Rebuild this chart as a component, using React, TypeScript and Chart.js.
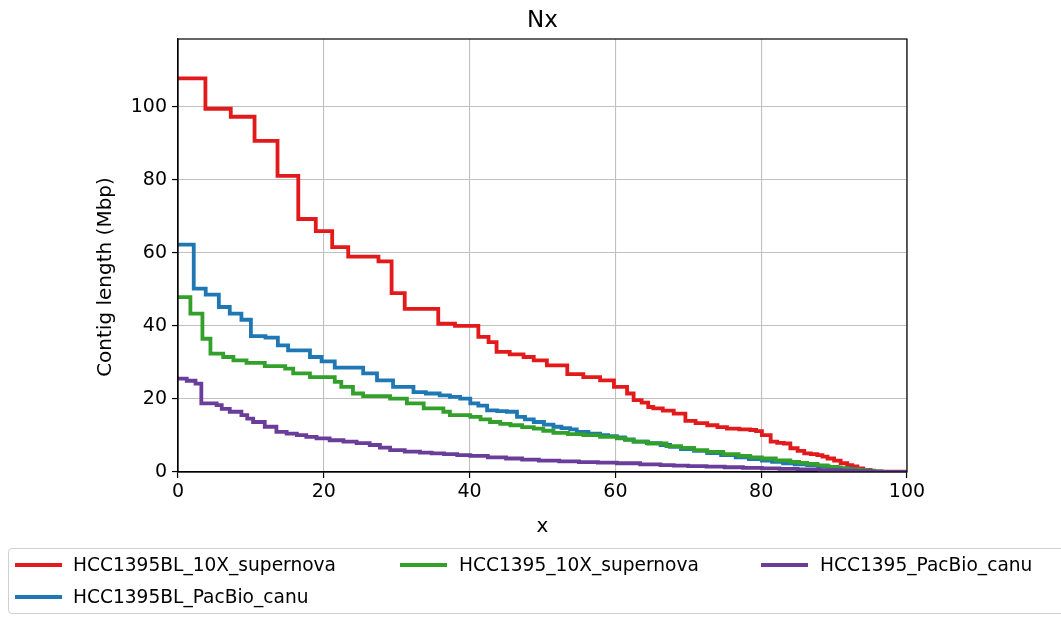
import React, { useEffect, useRef } from "react";
import { Chart, registerables } from "chart.js";

Chart.register(...registerables);

const FONT = "'DejaVu Sans', 'Liberation Sans', sans-serif";

// Series names and colours
const seriesNames = [
  "HCC1395BL_10X_supernova",
  "HCC1395BL_PacBio_canu",
  "HCC1395_10X_supernova",
  "HCC1395_PacBio_canu",
];
const seriesColors = ["#e31a1c", "#1f78b4", "#33a02c", "#6a3d9a"];

// Nx step starts (x) and contig length in Mbp (y)
const red10xX = [0, 3.76, 7.24, 10.5, 13.65, 16.5, 18.9, 21.15, 23.35, 27.5, 29.3, 31.1, 35.7, 38.0, 41.2, 42.6, 43.7, 45.5, 47.4, 48.8, 50.6, 53.4, 55.6, 57.9, 59.8, 61.6, 62.5, 63.6, 64.5, 65.2, 66.5, 68.0, 69.6, 71.0, 72.6, 74.0, 75.3, 77.0, 78.5, 79.3, 80.1, 81.3, 82.2, 83.1, 84.0, 85.0, 85.9, 86.8, 87.7, 88.4, 89.1, 90.0, 90.9, 91.8, 92.5, 93.2, 94.0, 95.0, 100];
const red10xY = [107.8, 99.5, 97.3, 90.7, 81.1, 69.3, 66.0, 61.6, 59.0, 57.7, 49.0, 44.7, 40.6, 40.0, 37.0, 35.6, 32.9, 32.2, 31.5, 30.6, 29.2, 26.8, 26.0, 25.1, 23.3, 21.5, 19.7, 19.0, 17.8, 17.4, 16.8, 16.0, 14.0, 13.4, 12.8, 12.3, 11.9, 11.7, 11.5, 11.2, 10.1, 8.3, 8.0, 7.8, 6.5, 5.8, 5.1, 4.9, 4.6, 4.2, 3.7, 3.1, 2.4, 1.9, 1.5, 1.0, 0.6, 0.1, 0];

const bluePbX = [0, 2.16, 3.8, 5.6, 7.1, 8.7, 10.0, 12.0, 13.7, 15.1, 18.1, 19.7, 21.5, 25.4, 27.3, 29.5, 32.3, 34.0, 35.9, 37.3, 38.7, 40.1, 41.2, 42.4, 43.8, 45.1, 46.5, 47.6, 48.8, 50.2, 51.5, 52.6, 53.8, 54.7, 56.3, 57.9, 59.0, 60.2, 61.3, 62.5, 64.3, 66.2, 67.5, 69.0, 70.8, 72.6, 74.5, 76.5, 78.3, 80.1, 81.5, 83.0, 84.6, 86.3, 87.8, 89.3, 90.9, 92.2, 93.4, 94.5, 100];
const bluePbY = [62.3, 50.2, 48.6, 45.2, 43.4, 41.7, 37.2, 36.8, 34.7, 33.3, 31.5, 30.3, 28.6, 27.0, 25.1, 23.3, 21.9, 21.5, 21.0, 20.6, 20.1, 18.8, 18.2, 16.9, 16.7, 16.5, 15.1, 14.4, 13.7, 13.0, 12.4, 12.0, 11.7, 11.0, 10.5, 10.1, 9.8, 9.5, 8.9, 8.3, 7.9, 7.4, 6.9, 6.3, 5.8, 5.2, 4.6, 4.0, 3.5, 3.1, 2.8, 2.4, 2.1, 1.9, 1.5, 1.2, 1.0, 0.7, 0.4, 0, 0];

const green10xX = [0, 1.7, 3.35, 4.45, 6.2, 7.6, 9.4, 11.9, 14.7, 15.8, 18.1, 21.5, 22.4, 24.0, 25.4, 29.1, 31.4, 33.7, 36.4, 37.3, 40.1, 41.5, 42.8, 44.2, 45.6, 47.2, 48.8, 50.1, 51.5, 53.5, 55.6, 57.9, 60.2, 61.4, 62.5, 64.5, 67.0, 69.0, 70.8, 72.6, 74.8, 76.9, 78.5, 80.1, 82.0, 84.0, 85.2, 86.3, 87.7, 89.1, 90.5, 91.8, 93.2, 94.5, 95.5, 96.5, 100];
const green10xY = [47.9, 43.4, 36.5, 32.4, 31.5, 30.6, 29.9, 29.0, 28.3, 27.0, 26.0, 24.7, 23.3, 21.5, 20.8, 20.1, 18.8, 17.4, 16.5, 15.6, 15.1, 14.4, 13.7, 13.2, 12.8, 12.3, 11.9, 11.3, 10.7, 10.4, 10.1, 9.6, 9.2, 8.8, 8.3, 7.8, 7.1, 6.6, 6.0, 5.5, 4.9, 4.4, 4.0, 3.7, 3.2, 2.8, 2.5, 2.2, 1.8, 1.4, 1.0, 0.7, 0.5, 0.35, 0.15, 0, 0];

const purplePbX = [0, 1.2, 2.4, 3.2, 5.3, 6.0, 7.1, 8.7, 9.5, 10.3, 11.9, 13.5, 14.9, 16.3, 17.6, 19.0, 20.8, 22.7, 24.5, 26.3, 27.7, 29.1, 31.1, 33.2, 34.8, 36.5, 38.3, 40.1, 42.5, 45.0, 47.2, 49.5, 52.3, 55.0, 57.6, 60.2, 63.4, 66.2, 68.0, 70.0, 72.5, 75.0, 77.5, 80.1, 82.5, 85.0, 88.0, 90.9, 93.0, 95.0, 96.5, 100];
const purplePbY = [25.6, 25.0, 24.2, 18.8, 18.3, 17.3, 16.5, 15.6, 14.6, 13.7, 12.4, 11.0, 10.5, 10.1, 9.6, 9.2, 8.7, 8.3, 7.9, 7.4, 6.7, 6.0, 5.6, 5.3, 5.1, 4.9, 4.6, 4.4, 4.0, 3.7, 3.4, 3.1, 2.9, 2.7, 2.55, 2.4, 2.1, 1.9, 1.75, 1.6, 1.45, 1.3, 1.15, 1.0, 0.85, 0.7, 0.5, 0.35, 0.2, 0.1, 0, 0];

// Axis settings
const xMin = 0;
const xMax = 100;
const xStep = 20;
const yMin = 0;
const yMax = 118.6;
const yStep = 20;

const titleText = "Nx";
const xLabel = "x";
const yLabel = "Contig length (Mbp)";

function toPoints(xs: number[], ys: number[]) {
  return xs.map((x, i) => ({ x, y: ys[i] }));
}

const W = 1061;
const H = 617;

const decorPlugin = {
  id: "decor",
  afterDraw(chart: any) {
    const { ctx, chartArea: a } = chart;
    ctx.save();
    ctx.strokeStyle = "#000";
    ctx.lineWidth = 1.2;
    ctx.strokeRect(a.left, a.top, a.right - a.left, a.bottom - a.top);
    ctx.fillStyle = "#000";
    ctx.textAlign = "center";
    ctx.textBaseline = "alphabetic";
    const cx = (a.left + a.right) / 2;
    ctx.font = `23px ${FONT}`;
    ctx.fillText(titleText, cx, 27);
    ctx.font = `20px ${FONT}`;
    ctx.fillText(xLabel, cx, 532);
    ctx.translate(111, 277);
    ctx.rotate(-Math.PI / 2);
    ctx.fillText(yLabel, 0, 0);
    ctx.restore();
  },
};

export default function App() {
  const canvasRef = useRef<HTMLCanvasElement | null>(null);

  useEffect(() => {
    document.body.style.margin = "0";
    const canvas = canvasRef.current;
    if (!canvas) return;
    const all = [
      toPoints(red10xX, red10xY),
      toPoints(bluePbX, bluePbY),
      toPoints(green10xX, green10xY),
      toPoints(purplePbX, purplePbY),
    ];
    const datasets = all
      .map((data, i) => ({
        label: seriesNames[i],
        data,
        borderColor: seriesColors[i],
        backgroundColor: seriesColors[i],
        borderWidth: 3.8,
        pointRadius: 0,
        stepped: true as any,
        fill: false,
      }))
      .reverse();

    const tickFont = { family: FONT, size: 19 };
    const chart = new Chart(canvas, {
      type: "line",
      data: { datasets },
      options: {
        animation: false,
        responsive: false,
        maintainAspectRatio: false,
        devicePixelRatio: 1,
        layout: { padding: { top: 39, right: 154, left: 0, bottom: 0 } },
        plugins: {
          legend: { display: false },
          title: { display: false },
          tooltip: { enabled: false },
        },
        scales: {
          x: {
            type: "linear",
            min: xMin,
            max: xMax,
            afterFit(s: any) {
              s.height = 145;
            },
            ticks: {
              stepSize: xStep,
              font: tickFont,
              color: "#000",
              padding: 3,
              maxRotation: 0,
            },
            grid: {
              color: "#c0c0c0",
              lineWidth: 1.1,
              tickLength: 6,
              tickColor: "#000",
              tickWidth: 1.2,
            },
            border: { color: "#000", width: 1.2 },
          },
          y: {
            type: "linear",
            min: yMin,
            max: yMax,
            afterFit(s: any) {
              s.width = 178;
            },
            ticks: {
              stepSize: yStep,
              includeBounds: false,
              font: tickFont,
              color: "#000",
              padding: 5,
            },
            grid: {
              color: "#c0c0c0",
              lineWidth: 1.1,
              tickLength: 6,
              tickColor: "#000",
              tickWidth: 1.2,
            },
            border: { color: "#000", width: 1.2 },
          },
        },
      } as any,
      plugins: [decorPlugin],
    });
    return () => chart.destroy();
  }, []);

  const legendRows = [
    [
      { i: 0, handle: 15, text: 73, y: 565 },
      { i: 2, handle: 400, text: 459, y: 565 },
      { i: 3, handle: 761, text: 820, y: 565 },
    ],
    [{ i: 1, handle: 15, text: 73, y: 597 }],
  ];

  return (
    <div
      style={{
        position: "absolute",
        left: 0,
        top: 0,
        width: W,
        height: H,
        overflow: "hidden",
        background: "#fff",
      }}
    >
      <canvas
        ref={canvasRef}
        width={W}
        height={H}
        style={{ display: "block", width: W, height: H }}
      />
      <div
        style={{
          position: "absolute",
          left: 8,
          top: 548,
          width: 1080,
          height: 66,
          border: "1.2px solid #d0d0d0",
          borderRadius: 4,
          boxSizing: "border-box",
        }}
      />
      {legendRows.flat().map((e) => (
        <React.Fragment key={e.i}>
          <div
            style={{
              position: "absolute",
              left: e.handle,
              top: e.y - 2,
              width: 47,
              height: 4,
              background: seriesColors[e.i],
            }}
          />
          <div
            style={{
              position: "absolute",
              left: e.text,
              top: e.y - 12,
              height: 24,
              lineHeight: "24px",
              fontFamily: FONT,
              fontSize: 18.6,
              color: "#000",
              whiteSpace: "nowrap",
            }}
          >
            {seriesNames[e.i]}
          </div>
        </React.Fragment>
      ))}
    </div>
  );
}
